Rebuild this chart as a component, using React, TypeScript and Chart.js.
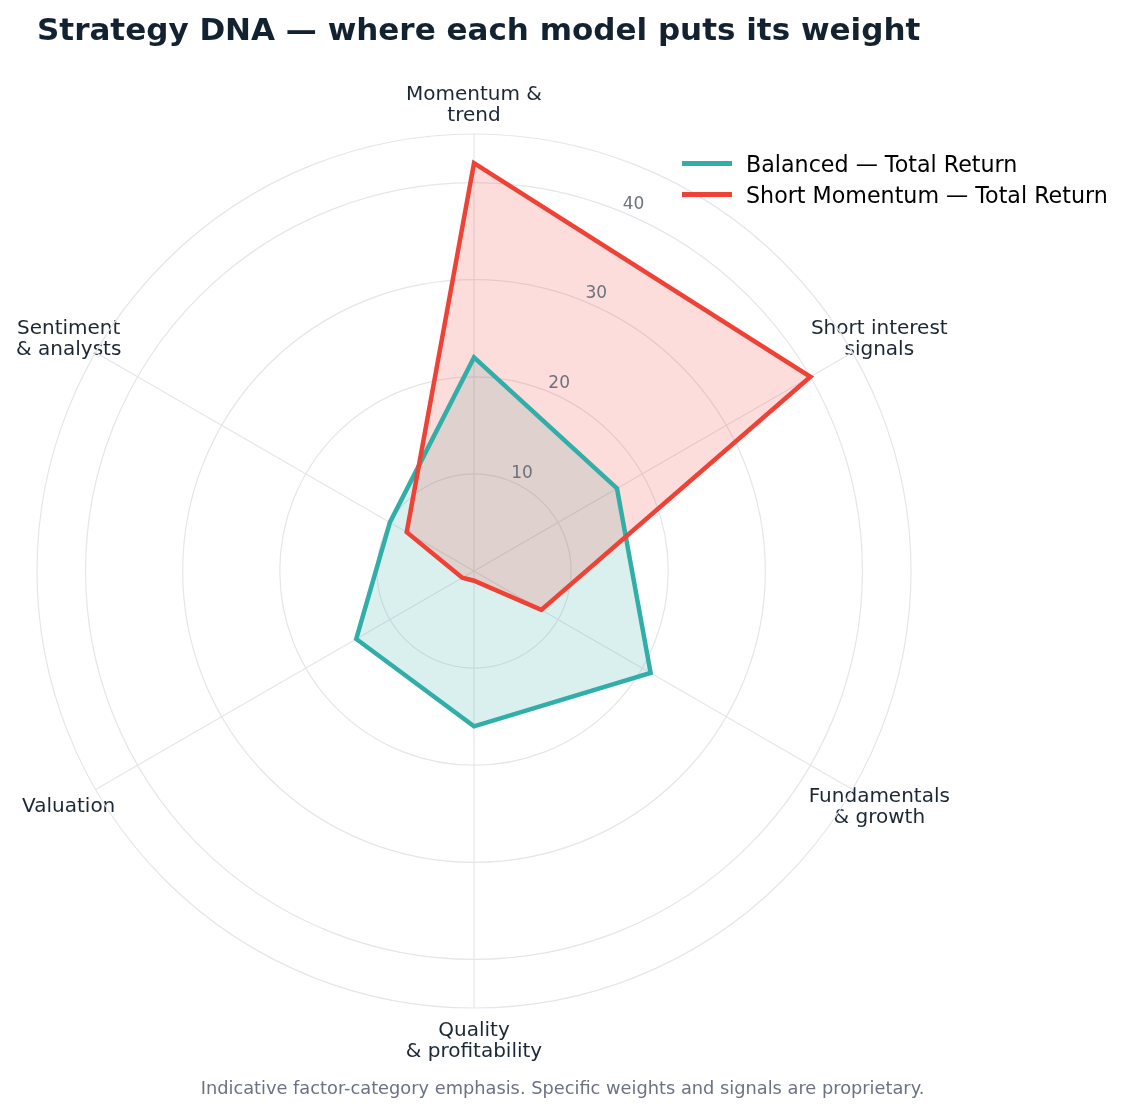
import { useEffect, useRef } from "react";
import { Chart, registerables, type ChartConfiguration, type Plugin } from "chart.js";

Chart.register(...registerables);

const FONT = '"DejaVu Sans", sans-serif';

const categories = [
  ["Momentum &", "trend"],
  ["Short interest", "signals"],
  ["Fundamentals", "& growth"],
  ["Quality", "& profitability"],
  ["Valuation"],
  ["Sentiment", "& analysts"],
];
const balanced = [22, 17, 21, 16, 14, 10];
const shortMomentum = [42, 40, 8, 1, 1.4, 8];
const gridTicks = [0, 10, 20, 30, 40, 45];
const tickLabels = [10, 20, 30, 40];

const TEAL = "#30aea7";
const RED = "#ee4236";
const GRID = "#e4e6ea";

// point labels (under the grid) and radial tick labels (on top)
const radarText: Plugin<"radar"> = {
  id: "radarText",
  beforeDraw(chart) {
    const scale: any = chart.scales.r;
    const ctx = chart.ctx;
    const size = 20;
    const gap = 21.5;
    ctx.save();
    ctx.font = `${size}px ${FONT}`;
    ctx.fillStyle = "#1c2735";
    ctx.textAlign = "center";
    ctx.textBaseline = "alphabetic";
    categories.forEach((lines, i) => {
      const p = scale.getPointPosition(i, scale.drawingArea + 31);
      const first = p.y - ((lines.length - 1) * gap - size * 0.73) / 2;
      lines.forEach((t, j) => ctx.fillText(t, p.x, first + j * gap));
    });
    ctx.restore();
  },
  afterDatasetsDraw(chart) {
    const scale: any = chart.scales.r;
    const ctx = chart.ctx;
    const a = (22.5 * Math.PI) / 180;
    ctx.save();
    ctx.font = `17px ${FONT}`;
    ctx.fillStyle = "#6b7280";
    ctx.textAlign = "left";
    ctx.textBaseline = "alphabetic";
    tickLabels.forEach((v) => {
      const d = scale.getDistanceFromCenterForValue(v);
      const x = scale.xCenter + d * Math.sin(a);
      const y = scale.yCenter - d * Math.cos(a);
      ctx.fillText(String(v), x, y - 3.5);
    });
    ctx.restore();
  },
};

export default function App() {
  const canvasRef = useRef<HTMLCanvasElement>(null);

  useEffect(() => {
    document.body.style.margin = "0";
    if (!canvasRef.current) return;

    const config: ChartConfiguration<"radar"> = {
      type: "radar",
      data: {
        labels: categories,
        datasets: [
          {
            label: "Balanced — Total Return",
            data: balanced,
            borderColor: TEAL,
            backgroundColor: "rgba(48,174,167,0.18)",
            borderWidth: 4.5,
            pointRadius: 0,
            fill: true,
            order: 2,
          },
          {
            label: "Short Momentum — Total Return",
            data: shortMomentum,
            borderColor: RED,
            backgroundColor: "rgba(238,66,54,0.18)",
            borderWidth: 4.5,
            pointRadius: 0,
            fill: true,
            order: 1,
          },
        ],
      },
      options: {
        responsive: false,
        animation: false,
        layout: { padding: { left: 37, right: 223, top: 134, bottom: 105 } },
        plugins: {
          legend: { display: false },
          tooltip: { enabled: false },
          filler: { drawTime: "beforeDatasetsDraw" },
        },
        scales: {
          r: {
            min: 0,
            max: 45,
            afterBuildTicks: (axis: any) => {
              axis.ticks = gridTicks.map((value) => ({ value }));
            },
            ticks: { display: false },
            pointLabels: { display: false },
            grid: { circular: true, color: GRID, lineWidth: 1.2 },
            angleLines: { color: GRID, lineWidth: 1.2 },
          },
        },
      },
      plugins: [radarText],
    };

    const chart = new Chart(canvasRef.current, config);
    return () => chart.destroy();
  }, []);

  const text = { position: "absolute" as const, fontFamily: FONT, lineHeight: 1, whiteSpace: "nowrap" as const };

  return (
    <div style={{ position: "relative", width: 1134, height: 1113, background: "#fff" }}>
      <canvas ref={canvasRef} width={1134} height={1113} style={{ position: "absolute", left: 0, top: 0 }} />
      <div style={{ ...text, left: 37, top: 13.8, fontSize: 31, fontWeight: "bold", color: "#132231" }}>
        Strategy DNA — where each model puts its weight
      </div>

      <div style={{ position: "absolute", left: 682, top: 161, width: 50, height: 4.5, background: TEAL }} />
      <div style={{ ...text, left: 746, top: 153.4, fontSize: 22.2, color: "#000" }}>Balanced — Total Return</div>
      <div style={{ position: "absolute", left: 682, top: 192, width: 50, height: 4.5, background: RED }} />
      <div style={{ ...text, left: 746, top: 184.4, fontSize: 22.2, color: "#000" }}>Short Momentum — Total Return</div>

      <div style={{ ...text, left: 0, width: 1125, top: 1078.8, fontSize: 17.8, color: "#6b7280", textAlign: "center" }}>
        Indicative factor-category emphasis. Specific weights and signals are proprietary.
      </div>
    </div>
  );
}
